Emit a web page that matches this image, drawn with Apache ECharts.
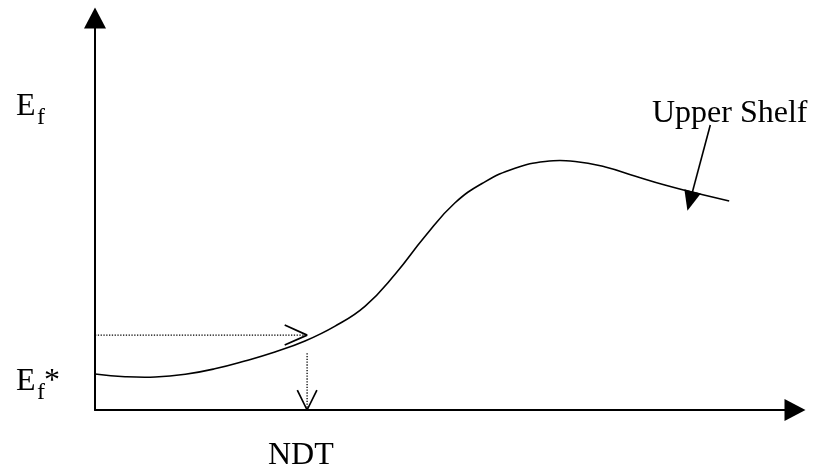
<!DOCTYPE html>
<html>
<head>
<meta charset="utf-8">
<script src="https://cdn.jsdelivr.net/npm/echarts@6/dist/echarts.min.js"></script>
<style>
html,body{margin:0;padding:0;background:#fff;}
#chart{width:813px;height:475px;}
</style>
</head>
<body>
<div id="chart"></div>
<script>
// Fracture energy curve (x: temperature, y: energy)
var curveX = [0, 4.3, 8.6, 12.9, 17.1, 21.4, 25.7, 30.0, 34.3, 38.6, 42.9, 47.1, 51.4, 55.7, 60.0, 64.3, 68.6, 72.9, 77.1, 81.4, 85.7, 90.6];
var curveY = [9.2, 8.5, 8.4, 9.1, 10.5, 12.5, 14.8, 17.6, 21.4, 26.5, 34.7, 44.2, 52.8, 58.2, 61.7, 63.4, 63.4, 62.0, 59.7, 57.4, 55.4, 53.3];

// NDT guide: level of Ef read and NDT position
var ndtX = 30.3;
var guideY = 19.1;
var guideCurveY = 14.5;
// open arrow heads of the dotted guides
var hHeadX = [27.1, 30.3, 27.1];
var hHeadY = [21.7, 19.1, 16.6];
var vHeadX = [28.9, 30.3, 31.7];
var vHeadY = [5.1, 0, 5.1];

// "Upper Shelf" pointer
var pointerFrom = [87.9, 72.7];
var pointerTo = [85.0, 53.3];

var labels = { ef: 'E', sub: 'f', star: '*', ndt: 'NDT', upper: 'Upper Shelf' };

function zip(a, b) { return a.map(function (v, i) { return [v, b[i]]; }); }

var FONT = '"Liberation Serif", "Times New Roman", serif';
var chart = echarts.init(document.getElementById('chart'), null, { renderer: 'canvas' });

function txt(t, x, y, size) {
  return {
    type: 'text', left: x, top: y,
    style: { text: t, fill: '#000', font: size + 'px ' + FONT }
  };
}

var option = {
  animation: false,
  backgroundColor: '#fff',
  grid: { left: 95, right: 18, top: 18, bottom: 65 },
  xAxis: {
    type: 'value', min: 0, max: 100,
    splitLine: { show: false }, axisTick: { show: false }, axisLabel: { show: false },
    axisLine: { show: true, symbol: ['none', 'triangle'], symbolSize: [22, 21], lineStyle: { color: '#000', width: 2 } }
  },
  yAxis: {
    type: 'value', min: 0, max: 100,
    splitLine: { show: false }, axisTick: { show: false }, axisLabel: { show: false },
    axisLine: { show: true, symbol: ['none', 'triangle'], symbolSize: [22, 21], lineStyle: { color: '#000', width: 2 } }
  },
  series: [
    {
      type: 'custom',
      data: [[0, 0]],
      silent: true,
      renderItem: function (params, api) {
        var pts = curveX.map(function (x, i) { return api.coord([x, curveY[i]]); });
        return {
          type: 'polyline',
          shape: { points: pts, smooth: 0.45 },
          style: { stroke: '#000', lineWidth: 1.6, fill: null }
        };
      }
    },
    {
      type: 'line', data: [[0, guideY], [ndtX, guideY]], showSymbol: false, clip: false,
      lineStyle: { color: '#000', width: 1.3, type: [1.3, 1.5] }
    },
    {
      type: 'line', data: [[ndtX, guideCurveY], [ndtX, 0]], showSymbol: false, clip: false,
      lineStyle: { color: '#000', width: 1.3, type: [1.3, 1.5] }
    },
    {
      type: 'line', data: zip(hHeadX, hHeadY), showSymbol: false, clip: false,
      lineStyle: { color: '#000', width: 1.7 },
      markLine: {
        silent: true, symbol: ['none', 'triangle'], symbolSize: [17, 20],
        label: { show: false },
        lineStyle: { color: '#000', width: 1.6, type: 'solid' },
        data: [[{ coord: pointerFrom }, { coord: pointerTo }]]
      }
    },
    {
      type: 'line', data: zip(vHeadX, vHeadY), showSymbol: false, clip: false,
      lineStyle: { color: '#000', width: 1.7 }
    }
  ],
  graphic: [
    txt(labels.ef, 16, 91, 32),
    txt(labels.sub, 37, 106, 24),
    txt(labels.ef, 16, 366, 32),
    txt(labels.sub, 37, 381, 24),
    txt(labels.star, 44, 366, 32),
    txt(labels.ndt, 268, 440, 32),
    txt(labels.upper, 652, 98, 32)
  ]
};
chart.setOption(option);
</script>
</body>
</html>
